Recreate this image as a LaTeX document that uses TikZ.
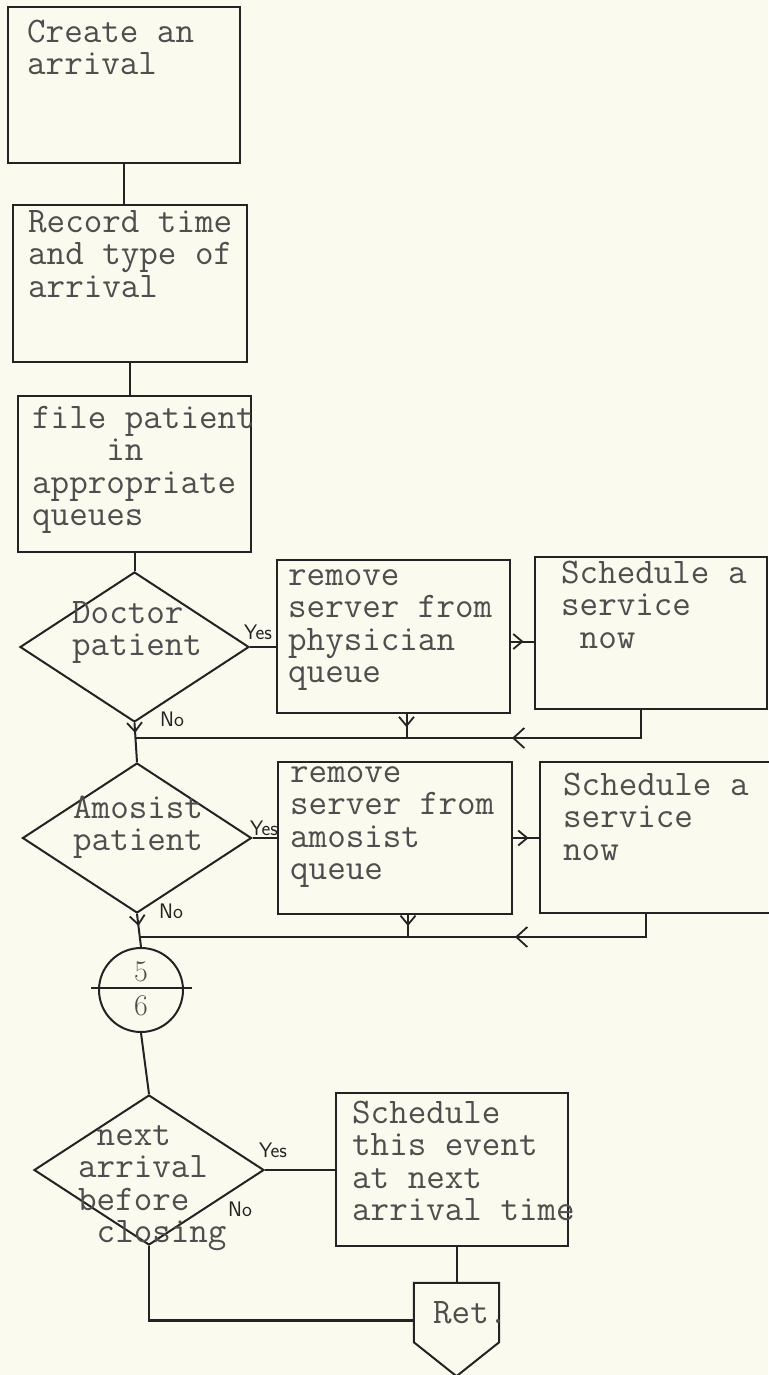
\documentclass[tikz,border=0pt]{standalone}
\usetikzlibrary{shapes.geometric,arrows.meta,decorations.markings}
\definecolor{paper}{RGB}{250,250,238}
\definecolor{ink}{RGB}{35,35,35}
\definecolor{tinky}{RGB}{78,78,78}
\tikzset{
  boxst/.style={draw=ink, line width=2pt, rectangle, inner sep=0pt},
  dmd/.style={draw=ink, line width=2pt, diamond, inner sep=0pt},
  conn/.style={draw=ink, line width=2pt},
  txt/.style={anchor=north west, inner sep=0pt, align=left, text=tinky, font=\ttfamily\fontsize{36}{32.5}\selectfont},
  yn/.style={inner sep=0pt, text=ink, font=\sffamily\fontsize{21}{21}\selectfont},
  midarr/.style={decoration={markings, mark=at position #1 with {\arrow{Straight Barb[length=9pt,width=15pt,line width=1.8pt]}}}, postaction={decorate}},
  bigarr/.style={decoration={markings, mark=at position #1 with {\arrow{Straight Barb[length=11pt,width=20pt,line width=1.8pt]}}}, postaction={decorate}}
}
\begin{document}
\begin{tikzpicture}[x=1pt,y=-1pt]
\fill[paper] (0,0) rectangle (768,1375);
\useasboundingbox (0,0) rectangle (768,1375);

% boxes
\node[boxst, minimum width=232pt, minimum height=156pt] (b1) at (124,85) {};
\node[boxst, minimum width=234pt, minimum height=157pt] (b2) at (130,283.5) {};
\node[boxst, minimum width=233pt, minimum height=156pt] (b3) at (134.5,474) {};
\node[boxst, minimum width=233pt, minimum height=153pt] (phys) at (393.5,636.5) {};
\node[boxst, minimum width=232pt, minimum height=152pt] (sch1) at (651,633) {};
\node[boxst, minimum width=234pt, minimum height=152pt] (amo) at (395,838) {};
\node[boxst, minimum width=232pt, minimum height=151pt] (sch2) at (656,837.5) {};
\node[boxst, minimum width=232pt, minimum height=153pt] (s3) at (452,1169.5) {};
\node[inner sep=0pt, minimum width=85pt, minimum height=59pt] (ret) at (456.5,1312.5) {};
\draw[conn, line join=miter] (ret.south west) -- (ret.north west) -- (ret.north east) -- (ret.south east) -- ([yshift=-34pt]ret.south) -- cycle;

% decisions
\node[dmd, minimum width=229pt, minimum height=150pt] (d1) at (134.5,647) {};
\node[dmd, minimum width=229pt, minimum height=150pt] (d2) at (137,838) {};
\node[dmd, minimum width=230pt, minimum height=150pt] (d3) at (149,1170) {};

% connector circle
\node[draw=ink, line width=2pt, circle, minimum size=84pt, inner sep=0pt] (c) at (141,990) {};
\draw[conn] ([xshift=-7pt,yshift=2pt]c.west) -- ([xshift=8pt,yshift=2pt]c.east);
\node[inner sep=0pt, text=tinky, font=\fontsize{30}{30}\selectfont] (c5) at (141,972) {5};
\node[inner sep=0pt, text=tinky, font=\fontsize{30}{30}\selectfont] (c6) at (141,1006) {6};

% texts
\node[txt] (t1) at (27,19.25) {\strut Create an\\arrival};
\node[txt] (t2) at (28,209.25) {\strut Record time\\and type of\\arrival};
\node[txt] (t3) at (32,405.25) {\strut file patient\\\hphantom{xxxx}in\\appropriate\\queues};
\node[txt] (tp) at (288,562.25) {\strut remove\\server from\\physician\\queue};
\node[txt] (ts1) at (561,560.25) {\strut Schedule a\\service\\\hphantom{x}now};
\node[txt] (ta) at (290,759.25) {\strut remove\\server from\\amosist\\queue};
\node[txt] (ts2) at (563,772.25) {\strut Schedule a\\service\\now};
\node[txt] (t4) at (352,1100.25) {\strut Schedule\\this event\\at next\\arrival time};
\node[txt] (td1) at (72,600.25) {\strut Doctor\\patient};
\node[txt] (td2) at (73,795.25) {\strut Amosist\\patient};
\node[txt] (td3) at (78,1122.25) {\strut \hphantom{x}next\\arrival\\before\\\hphantom{x}closing};
\node[txt] (tr) at (433,1300.25) {\strut Ret.};

% yes / no labels
\node[yn] (y1) at (258,632) {Yes};
\node[yn] (n1) at (172,719) {No};
\node[yn] (y2) at (264,828) {Yes};
\node[yn] (n2) at (171,911) {No};
\node[yn] (y3) at (273,1150) {Yes};
\node[yn] (n3) at (240,1209) {No};

% junction points
\coordinate (m1) at (134.5,738);
\coordinate (m2) at (140,937);

% connectors
\draw[conn] (b1.south) -- (b1.south |- b2.north);
\draw[conn] (b2.south) -- (b2.south |- b3.north);
\draw[conn] (b3.south) -- (d1.north);
\draw[conn] (d1.east) -- (d1.east -| phys.west);
\draw[conn, midarr=0.55] ([yshift=-5pt]phys.east) -- ([yshift=-5pt]phys.east -| sch1.west);
\draw[conn, midarr=10pt] (d1.south) -- (d2.north);
\draw[conn, midarr=0.55] ([xshift=13pt]phys.south) -- ([xshift=13pt]phys.south |- m1);
\draw[conn, bigarr=157pt] ([xshift=-10pt]sch1.south) |- (m1);

\draw[conn] (d2.east) -- (d2.east -| amo.west);
\draw[conn, midarr=0.6] (amo.east) -- (amo.east -| sch2.west);
\draw[conn, midarr=12pt] (d2.south) -- (c.north);
\draw[conn, midarr=0.5] ([xshift=13pt]amo.south) -- ([xshift=13pt]amo.south |- m2);
\draw[conn, bigarr=154pt] ([xshift=-10pt]sch2.south) |- (m2);

\draw[conn] (c.south) -- (d3.north);
\draw[conn] (d3.east) -- (d3.east -| s3.west);
\draw[conn] (ret.north |- s3.south) -- (ret.north);
\draw[conn, line width=2.6pt] (d3.south) |- ([yshift=-8pt]ret.west);
\end{tikzpicture}
\end{document}
